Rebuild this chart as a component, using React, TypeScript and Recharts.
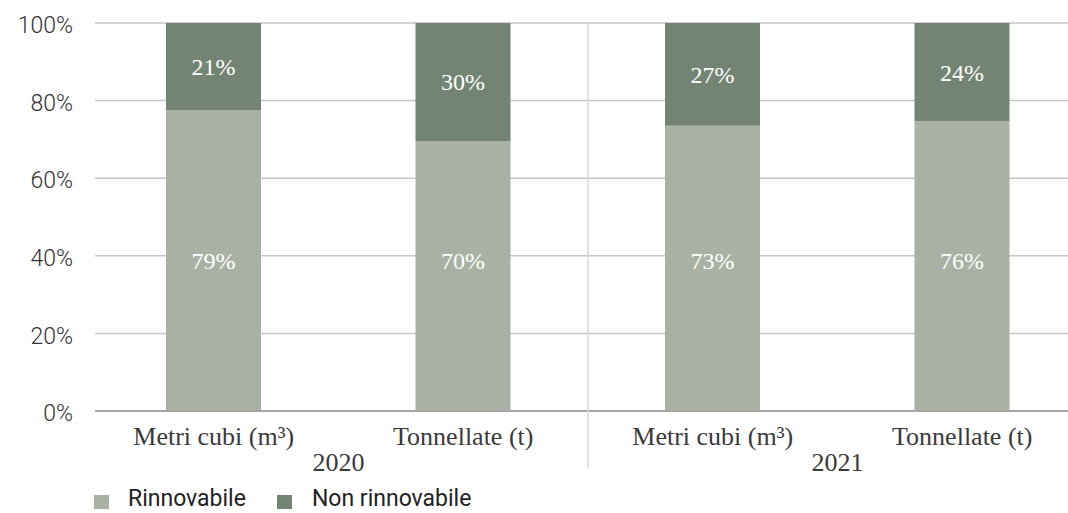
import { BarChart, Bar, XAxis, YAxis, CartesianGrid, LabelList } from "recharts";

const categories = ["Metri cubi (m³)", "Tonnellate (t)", "Metri cubi (m³)", "Tonnellate (t)"];
const years = ["2020", "2020", "2021", "2021"];
const rinnovabile = [77.6, 69.6, 73.5, 74.7];
const nonRinnovabile = [22.4, 30.4, 26.5, 25.3];
const rinnovabileLabels = ["79%", "70%", "73%", "76%"];
const nonRinnovabileLabels = ["21%", "30%", "27%", "24%"];
const yTicks = [0, 20, 40, 60, 80, 100];

const LIGHT = "#a9b1a5";
const DARK = "#748474";
const TOP = 23;
const BAND = 249.5;

const data = categories.map((c, i) => ({
  name: c,
  year: years[i],
  rin: rinnovabile[i],
  non: nonRinnovabile[i],
  rinLabel: rinnovabileLabels[i],
  nonLabel: nonRinnovabileLabels[i],
}));

const serif = "'Liberation Serif', serif";

const XTick = (props: any) => {
  const { x, y, payload, index } = props;
  return (
    <g>
      <text x={x} y={y + 25} textAnchor="middle" dominantBaseline="central" fontFamily={serif} fontSize={26} fill="#3a3a3a">
        {payload.value}
      </text>
      {index % 2 === 0 && (
        <text x={x + BAND / 2} y={y + 51} textAnchor="middle" dominantBaseline="central" fontFamily={serif} fontSize={26} fill="#3a3a3a">
          {years[index]}
        </text>
      )}
      {index === 2 && (
        <line x1={x - BAND / 2} x2={x - BAND / 2} y1={TOP} y2={468} stroke="#d9d9d9" strokeWidth={1.5} />
      )}
    </g>
  );
};

const RinLabel = (p: any) => (
  <text
    x={p.x + p.width / 2}
    y={p.y + p.height - 150}
    textAnchor="middle"
    dominantBaseline="central"
    fontFamily={serif}
    fontSize={24}
    fill="#ffffff"
  >
    {rinnovabileLabels[p.index]}
  </text>
);

const square = (color: string) => ({
  width: 15,
  height: 14,
  background: color,
  display: "inline-block",
  position: "relative" as const,
  top: 3,
});

export default function App() {
  return (
    <div style={{ position: "absolute", left: 0, top: 0, width: 1068, height: 513, overflow: "hidden", background: "#fff" }}>
      <BarChart width={1092} height={513} data={data} margin={{ top: TOP, right: 5, left: 0, bottom: 0 }}>
        <CartesianGrid vertical={false} stroke="#c6c6c6" strokeWidth={1.5} />
        <YAxis
          width={95}
          domain={[0, 100]}
          ticks={yTicks}
          tickFormatter={(v) => `${v}%`}
          axisLine={false}
          tickLine={false}
          tickSize={0}
          tickMargin={22}
          tick={{ fontFamily: "Roboto, sans-serif", fontWeight: 300, fontSize: 23, fill: "#333333", dy: 2 }}
        />
        <XAxis
          dataKey="name"
          height={102}
          padding={{ left: -6, right: 0 }}
          axisLine={{ stroke: "#a6a6a6", strokeWidth: 2 }}
          tickLine={false}
          tickSize={0}
          tickMargin={0}
          interval={0}
          tick={<XTick />}
        />
        <Bar dataKey="rin" stackId="a" fill={LIGHT} barSize={95} isAnimationActive={false}>
          <LabelList dataKey="rinLabel" content={<RinLabel />} />
        </Bar>
        <Bar dataKey="non" stackId="a" fill={DARK} barSize={95} isAnimationActive={false}>
          <LabelList dataKey="nonLabel" position="center" fill="#ffffff" fontFamily={serif} fontSize={24} />
        </Bar>
      </BarChart>
      <div
        style={{
          position: "absolute",
          left: 94,
          top: 485,
          display: "flex",
          alignItems: "center",
          fontFamily: "Roboto, sans-serif",
          fontSize: 23,
          lineHeight: "normal",
          color: "#222",
        }}
      >
        <span style={{ ...square(LIGHT), marginRight: 19 }} />
        <span style={{ marginRight: 31 }}>Rinnovabile</span>
        <span style={{ ...square(DARK), marginRight: 20 }} />
        <span>Non rinnovabile</span>
      </div>
    </div>
  );
}
